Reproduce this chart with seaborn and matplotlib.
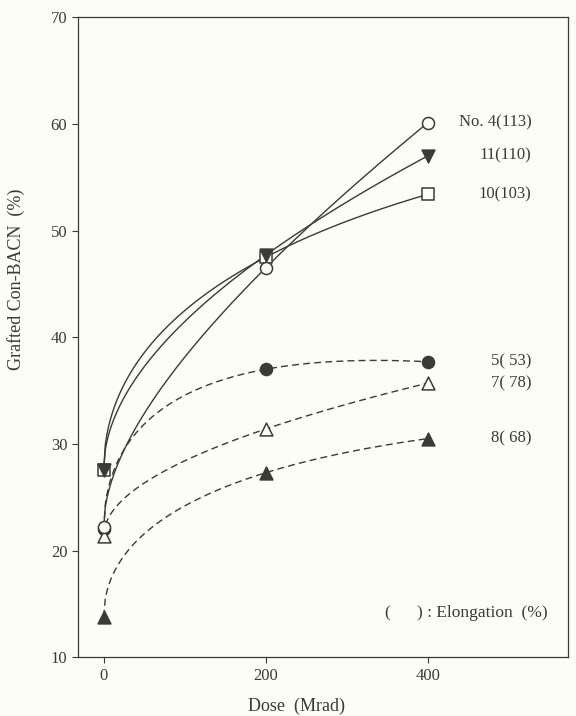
import matplotlib
matplotlib.use('Agg')
import matplotlib.pyplot as plt
import seaborn as sns
import numpy as np
import pandas as pd

# -------------------------
# Data
# -------------------------

dose = [0, 200, 400]

sample_labels = ['No. 4(113)', '11(110)', '10(103)', '5( 53)', '7( 78)', '8( 68)']

grafted_no4 = [22.2, 46.5, 60.1]
grafted_11 = [27.6, 47.7, 57.0]
grafted_10 = [27.6, 47.5, 53.4]
grafted_5 = [22.0, 37.0, 37.7]
grafted_7 = [21.4, 31.4, 35.7]
grafted_8 = [13.8, 27.3, 30.5]

series_values = [grafted_no4, grafted_11, grafted_10, grafted_5, grafted_7, grafted_8]

ink = '#3a3a36'
paper = '#fdfdf8'

# marker, filled?, line style, marker zorder
styles = [
    ('o', False, '-', 7),
    ('v', True, '-', 6),
    ('s', False, '-', 5),
    ('o', True, (0, (5, 3)), 4),
    ('^', False, (0, (5, 3)), 6),
    ('^', True, (0, (5, 3)), 5),
]

sns.set_style('ticks')
plt.rcParams['font.family'] = ['Liberation Serif', 'DejaVu Serif']

fig = plt.figure(figsize=(5.76, 7.16), dpi=100, facecolor=paper)
ax = fig.add_axes([0.135, 0.082, 0.851, 0.894])
ax.set_facecolor(paper)

x_dense = np.linspace(0, 400, 200)

for label, values, (marker, filled, ls, z) in zip(sample_labels, series_values, styles):

    # smooth saturating curve through the three points: a + b*sqrt(x) + c*x
    basis = np.column_stack([np.ones(3), np.sqrt(dose), dose])
    coef = np.linalg.solve(basis, np.array(values))
    y_dense = coef[0] + coef[1] * np.sqrt(x_dense) + coef[2] * x_dense

    curve = pd.DataFrame({'dose': x_dense, 'grafted': y_dense})
    sns.lineplot(
        data=curve,
        x='dose',
        y='grafted',
        ax=ax,
        color=ink,
        linestyle=ls,
        linewidth=1.0,
        estimator=None,
        sort=False
    )

    pts = pd.DataFrame({'dose': dose, 'grafted': values})
    size = 85 if marker in ('^', 'v') else 75
    sns.scatterplot(
        data=pts,
        x='dose',
        y='grafted',
        ax=ax,
        marker=marker,
        s=size,
        color=ink if filled else paper,
        edgecolor=ink,
        linewidth=1.1,
        zorder=z
    )

    ax.text(528, values[-1], label, ha='right', va='center',
            fontsize=12, color=ink)

ax.text(0.959, 0.069, '(      ) : Elongation  (%)', transform=ax.transAxes,
        ha='right', va='center', fontsize=12.5, color=ink)

ax.set_xlim(-32, 573)
ax.set_ylim(10, 70)
ax.set_xticks(dose)
ax.set_yticks(range(10, 71, 10))

ax.tick_params(axis='both', direction='out', length=4, width=0.8,
               colors=ink, labelsize=12)

for side in ['left', 'bottom', 'top', 'right']:
    ax.spines[side].set_visible(True)
    ax.spines[side].set_color(ink)
    ax.spines[side].set_linewidth(0.9)

ax.set_xlabel('Dose  (Mrad)', fontsize=13, color=ink)
ax.set_ylabel('Grafted Con-BACN  (%)', fontsize=13, color=ink)
ax.xaxis.set_label_coords(0.447, -0.063)
ax.yaxis.set_label_coords(-0.108, 0.59)

fig.savefig('out.png', dpi=100, facecolor=paper)
plt.close(fig)
